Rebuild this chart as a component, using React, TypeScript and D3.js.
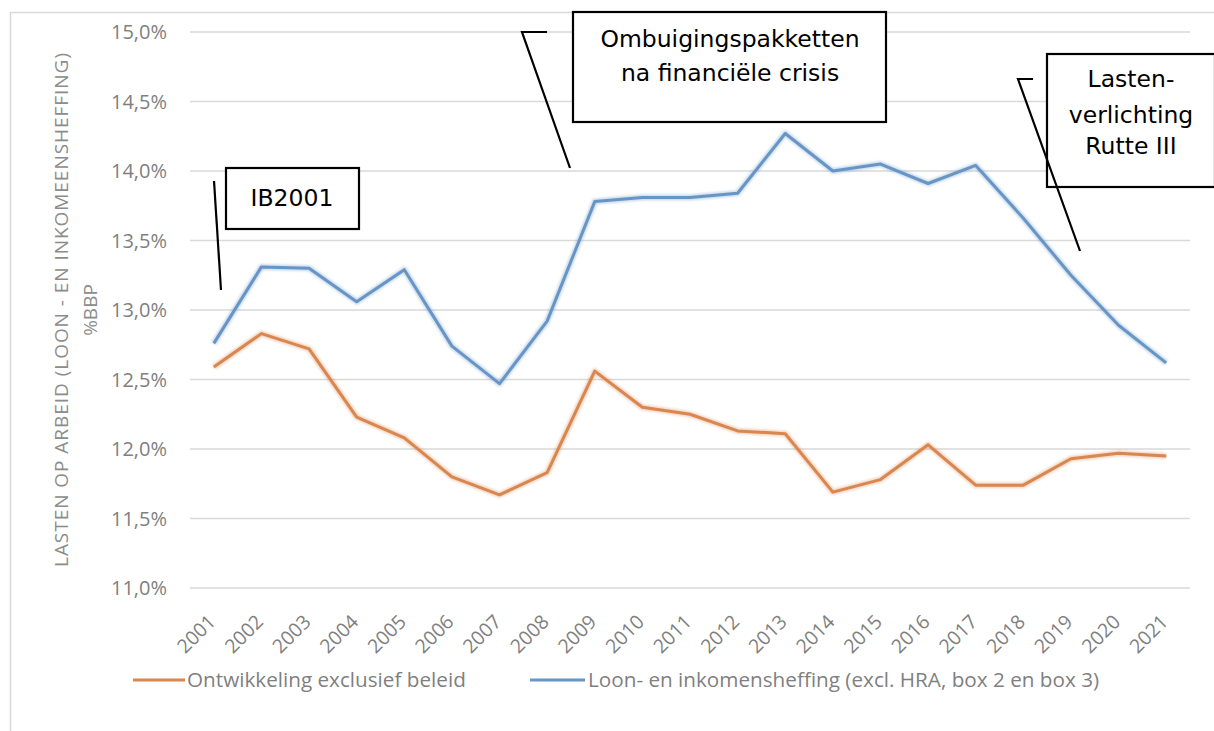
import React from 'react';
import * as d3 from 'd3';

const years = ['2001', '2002', '2003', '2004', '2005', '2006', '2007', '2008', '2009', '2010', '2011',
               '2012', '2013', '2014', '2015', '2016', '2017', '2018', '2019', '2020', '2021'];

const exclBeleid = [12.59, 12.83, 12.72, 12.23, 12.08, 11.80, 11.67, 11.83, 12.56, 12.30, 12.25,
                    12.13, 12.11, 11.69, 11.78, 12.03, 11.74, 11.74, 11.93, 11.97, 11.95];

const loonHeffing = [12.76, 13.31, 13.30, 13.06, 13.29, 12.74, 12.47, 12.92, 13.78, 13.81, 13.81,
                     13.84, 14.27, 14.00, 14.05, 13.91, 14.04, 13.66, 13.25, 12.89, 12.62];

const yTicks = [11, 11.5, 12, 12.5, 13, 13.5, 14, 14.5, 15];

const seriesNames = ['Ontwikkeling exclusief beleid', 'Loon- en inkomensheffing (excl. HRA, box 2 en box 3)'];

const W = 1214, H = 731;
const gray = '#7f7f7f';
const orange = '#d9864f';
const blue = '#6796c6';
const boxFont = '"DejaVu Sans", Verdana, sans-serif';
const axisFont = '"Open Sans", "Noto Sans", sans-serif';

export default function App() {
  const x = d3.scalePoint<string>().domain(years).range([190, 1190]).padding(0.5);
  const y = d3.scaleLinear().domain([11, 15]).range([588, 32]);
  const fmt = (v: number) => d3.format('.1f')(v).replace('.', ',') + '%';

  const line = d3.line<number>()
                 .x((d, i) => x(years[i]) as number)
                 .y(d => y(d));

  const series = [
    { name: seriesNames[0], values: exclBeleid, color: orange },
    { name: seriesNames[1], values: loonHeffing, color: blue },
  ];

  return (
    <svg width={W} height={H} style={{ position: 'absolute', left: 0, top: 0, background: '#fff' }}>
      <defs>
        <filter id="glow" x="-5%" y="-5%" width="110%" height="110%">
          <feGaussianBlur stdDeviation="1.2" />
        </filter>
      </defs>
      <rect x={10.5} y={12.5} width={1300} height={800} fill="none" stroke="#d9d9d9" strokeWidth={1.5} />

      {/* gridlines + y labels */}
      {yTicks.map(t => (
        <g key={t}>
          <line x1={190} x2={1190} y1={y(t)} y2={y(t)} stroke="#d9d9d9" strokeWidth={1.5} />
          <text x={167} y={y(t)} dy="0.35em" textAnchor="end" fontFamily={axisFont}
                fontSize={20} fill={gray}>{fmt(t)}</text>
        </g>
      ))}

      {/* y title */}
      <g transform={`translate(68,310) rotate(-90)`}>
        <text x={-257} y={0} textLength={514} lengthAdjust="spacing" fontFamily={axisFont}
              fontSize={19} fill="#8c8c8c">
          LASTEN OP ARBEID (LOON - EN INKOMEENSHEFFING)
        </text>
        <text x={0} y={29} textAnchor="middle" fontFamily={axisFont} fontSize={19} fill="#8c8c8c">%BBP</text>
      </g>

      {/* x labels */}
      {years.map(yr => (
        <text key={yr} transform={`translate(${(x(yr) as number) + 3},${623}) rotate(-45)`}
              textAnchor="end" fontFamily={axisFont} fontSize={19.5} fill={gray}>{yr}</text>
      ))}

      {/* lines */}
      {series.map(s => (
        <g key={s.name}>
          <path d={line(s.values) || ''} fill="none" stroke={s.color} strokeOpacity={0.35}
                strokeWidth={6} filter="url(#glow)" strokeLinejoin="round" />
          <path d={line(s.values) || ''} fill="none" stroke={s.color} strokeWidth={3}
                strokeLinejoin="round" />
        </g>
      ))}

      {/* legend */}
      <line x1={133} x2={185} y1={680} y2={680} stroke={orange} strokeWidth={3} />
      <text x={187} y={680} dy="0.35em" fontFamily={axisFont} fontSize={20.7} fill={gray}>{seriesNames[0]}</text>
      <line x1={530} x2={585} y1={680} y2={680} stroke={blue} strokeWidth={3} />
      <text x={588} y={680} dy="0.35em" fontFamily={axisFont} fontSize={20.7} fill={gray}>{seriesNames[1]}</text>

      {/* annotations */}
      <g fontFamily={boxFont} fontSize={23.5} fill="#000" textAnchor="middle">
        <line x1={214} y1={181} x2={221} y2={290} stroke="#000" strokeWidth={2.2} />
        <rect x={226} y={168} width={133} height={61} fill="#fff" stroke="#000" strokeWidth={2.2} />
        <text x={292} y={206}>IB2001</text>

        <polyline points="547,32 522,32 570,168" fill="none" stroke="#000" strokeWidth={2.2} />
        <rect x={573} y={12} width={313} height={110} fill="#fff" stroke="#000" strokeWidth={2.2} />
        <text x={730} y={47}>Ombuigingspakketten</text>
        <text x={730} y={81}>na financiële crisis</text>

        <rect x={1047} y={54} width={168} height={133} fill="#fff" stroke="#000" strokeWidth={2.2} />
        <text x={1131} y={87}>Lasten-</text>
        <text x={1131} y={123}>verlichting</text>
        <text x={1131} y={154}>Rutte III</text>
        <polyline points="1033,79 1018,79 1080,251" fill="none" stroke="#000" strokeWidth={2.2} />
      </g>
    </svg>
  );
}
